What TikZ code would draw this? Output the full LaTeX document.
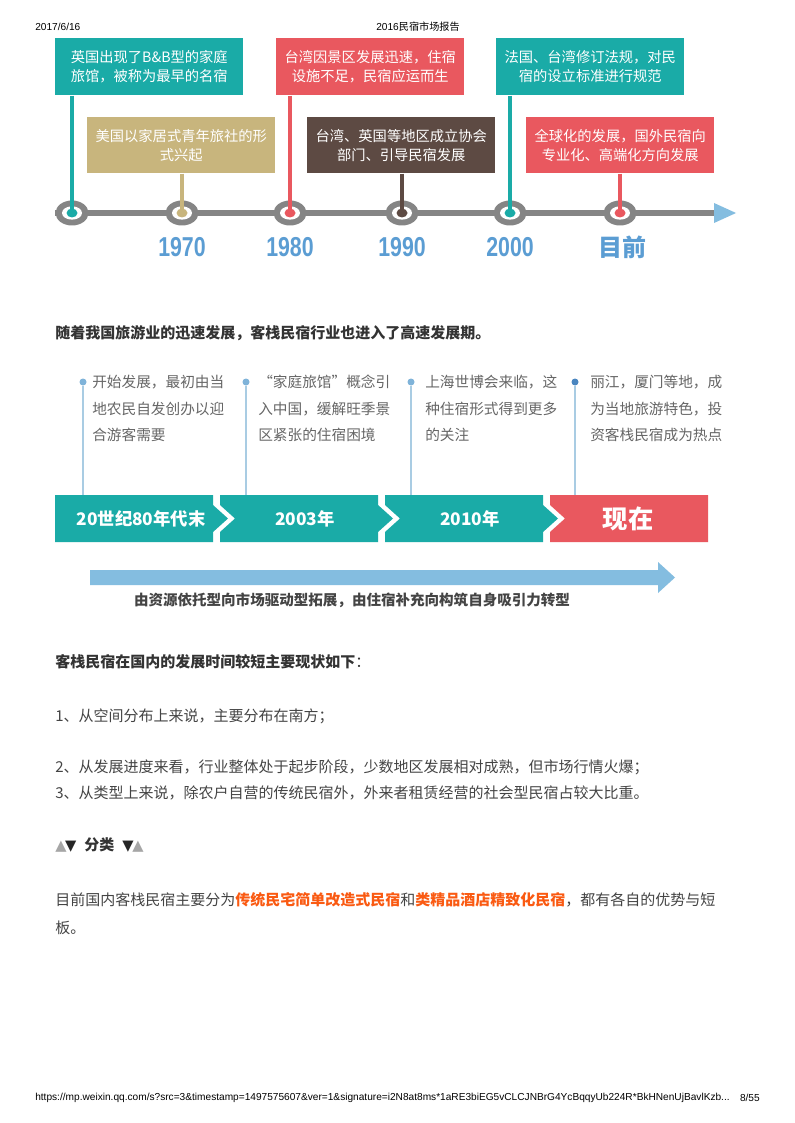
\documentclass[tikz,border=0pt]{standalone}
\usepackage{fontspec}
\setmainfont{Noto Sans CJK SC}
\newfontfamily\latinfont{Liberation Sans}
\newfontfamily\symfont{DejaVu Sans}
\usetikzlibrary{shapes.geometric}
\definecolor{teal1}{HTML}{1AABA7}
\definecolor{red1}{HTML}{E9585F}
\definecolor{tan1}{HTML}{C8B57D}
\definecolor{brown1}{HTML}{5D4A43}
\definecolor{ringgray}{HTML}{858585}
\definecolor{yearblue}{HTML}{5B9DD3}
\definecolor{arrowblue}{HTML}{84BDE0}
\definecolor{dotblue}{HTML}{7FB3D9}
\definecolor{dotblue2}{HTML}{4A86C0}
\definecolor{linkblue}{HTML}{A9CCE3}
\definecolor{txt}{HTML}{333333}
\definecolor{txt2}{HTML}{444444}
\definecolor{txt3}{HTML}{666666}
\definecolor{orange1}{HTML}{FA5A12}
\begin{document}
\begin{tikzpicture}[x=0.75pt,y=-0.75pt,
  topbox/.style={anchor=north west, inner sep=0pt, text=white, align=center,
    font=\fontsize{10.7}{14.5}\selectfont, minimum width=141pt, minimum height=42.75pt},
  ringout/.style={ellipse, fill=ringgray, minimum width=24.75pt, minimum height=18.75pt, inner sep=0pt},
  ringin/.style={ellipse, fill=white, minimum width=15pt, minimum height=10pt, inner sep=0pt},
  ringdot/.style={ellipse, minimum width=8.25pt, minimum height=6.75pt, inner sep=0pt},
  stem/.style={line width=3pt},
  year/.style={text=yearblue, inner sep=0pt, font=\latinfont\bfseries\fontsize{20.5}{20.5}\selectfont},
  stagel/.style={text=white, inner sep=0pt, font=\bfseries\fontsize{13}{13}\selectfont},
  stagetxt/.style={anchor=north west, inner sep=0pt, align=left, text=txt3,
    font=\fontsize{11}{19.9}\selectfont},
  sdot/.style={circle, minimum size=5.25pt, inner sep=0pt},
  body/.style={anchor=west, inner sep=0pt, text=txt2, font=\fontsize{11.25}{15}\selectfont},
  bodyb/.style={anchor=west, inner sep=0pt, text=txt, font=\bfseries\fontsize{11.25}{15}\selectfont},
  small/.style={inner sep=0pt, text=black, font=\latinfont\fontsize{7.6}{9}\selectfont}
]
\useasboundingbox[fill=white] (0,0) rectangle (794,1123);

% ---------- header / footer ----------
\node[small, anchor=west] (hdate) at (35,27) {2017/6/16};
\node[small] (htitle) at (418,27) {2016\fontspec{Noto Sans CJK SC}民宿市场报告};
\node[small, anchor=west] (furl) at (35,1098) {https://mp.weixin.qq.com/s?src=3\&timestamp=1497575607\&ver=1\&signature=i2N8at8ms*1aRE3biEG5vCLCJNBrG4YcBqqyUb224R*BkHNenUjBavlKzb...};
\node[small, anchor=east] (fpage) at (760,1098) {8/55};

% ---------- first timeline ----------
\node[topbox, fill=teal1] (bA) at (55,38) {英国出现了B\&B型的家庭\\旅馆，被称为最早的名宿};
\node[topbox, fill=tan1, minimum height=42pt] (bB) at (87,117) {美国以家居式青年旅社的形\\式兴起};
\node[topbox, fill=red1] (bC) at (276,38) {台湾因景区发展迅速，住宿\\设施不足，民宿应运而生};
\node[topbox, fill=brown1, minimum height=42pt] (bD) at (307,117) {台湾、英国等地区成立协会\\部门、引导民宿发展};
\node[topbox, fill=teal1] (bE) at (496,38) {法国、台湾修订法规，对民\\宿的设立标准进行规范};
\node[topbox, fill=red1, minimum height=42pt] (bF) at (526,117) {全球化的发展，国外民宿向\\专业化、高端化方向发展};

\coordinate (lstart) at (55,213);
\coordinate (lend) at (714,213);
\draw[ringgray, line width=4.5pt] (lstart) -- (lend);
\fill[arrowblue] (714,203) -- (736,213) -- (714,223) -- cycle;

\foreach \n/\xx/\col/\bx in {1/72/teal1/bA, 2/182/tan1/bB, 3/290/red1/bC, 4/402/brown1/bD, 5/510/teal1/bE, 6/620/red1/bF}{
  \node[ringout] (r\n) at (\xx,213) {};
  \node[ringin] (ri\n) at (r\n) {};
  \draw[stem, \col] (\bx.south -| r\n) -- (r\n.center);
  \node[ringdot, fill=\col] (rd\n) at (r\n) {};
}

\node[year] (y1970) at (182,247) {\scalebox{0.78}[1]{1970}};
\node[year] (y1980) at (290,247) {\scalebox{0.78}[1]{1980}};
\node[year] (y1990) at (402,247) {\scalebox{0.78}[1]{1990}};
\node[year] (y2000) at (510,247) {\scalebox{0.78}[1]{2000}};
\node[text=yearblue, inner sep=0pt, font=\bfseries\fontsize{18}{18}\selectfont] (ynow) at (622,247) {目前};

% ---------- heading ----------
\node[bodyb] (p1) at (55,333) {随着我国旅游业的迅速发展，客栈民宿行业也进入了高速发展期。};

% ---------- second timeline ----------
\fill[teal1] (55,495) -- (213,495) -- (213,505) -- (228,518.5) -- (213,532) -- (213,542) -- (55,542) -- cycle;
\fill[teal1] (220,495) -- (378,495) -- (378,505) -- (393,518.5) -- (378,532) -- (378,542) -- (220,542) -- (220,532) -- (235,518.5) -- (220,505) -- cycle;
\fill[teal1] (385,495) -- (543,495) -- (543,505) -- (558,518.5) -- (543,532) -- (543,542) -- (385,542) -- (385,532) -- (400,518.5) -- (385,505) -- cycle;
\fill[red1] (550,495) -- (708,495) -- (708,542) -- (550,542) -- (550,532) -- (565,518.5) -- (550,505) -- cycle;
\coordinate (stop) at (0,495);

\node[stagel] (s1) at (141,518.5) {20世纪80年代末};
\node[stagel] (s2) at (305,518.5) {2003年};
\node[stagel] (s3) at (470,518.5) {2010年};
\node[stagel, font=\bfseries\fontsize{19}{19}\selectfont] (s4) at (628,518.5) {现在};

\foreach \n/\xx/\col in {1/83/dotblue, 2/246/dotblue, 3/411/dotblue, 4/575/dotblue2}{
  \node[sdot, fill=\col] (d\n) at (\xx,382) {};
  \draw[linkblue, line width=0.9pt] (d\n) -- (d\n |- stop);
}

\node[stagetxt] (t1) at (92,375) {开始发展，最初由当\\地农民自发创办以迎\\合游客需要};
\node[stagetxt] (t2) at (258,375) {“家庭旅馆”概念引\\入中国，缓解旺季景\\区紧张的住宿困境};
\node[stagetxt] (t3) at (425,375) {上海世博会来临，这\\种住宿形式得到更多\\的关注};
\node[stagetxt] (t4) at (590,375) {丽江，厦门等地，成\\为当地旅游特色，投\\资客栈民宿成为热点};

\fill[arrowblue] (90,570) -- (658,570) -- (658,562) -- (675,577.5) -- (658,593) -- (658,585) -- (90,585) -- cycle;
\node[inner sep=0pt, text=txt2, font=\bfseries\fontsize{10.9}{12}\selectfont] (cap) at (352,600) {由资源依托型向市场驱动型拓展，由住宿补充向构筑自身吸引力转型};

% ---------- body text ----------
\node[bodyb] (p2) at (55,662) {客栈民宿在国内的发展时间较短主要现状如下\mdseries ：};
\node[body] (p3) at (55,716) {1、从空间分布上来说，主要分布在南方；};
\node[body] (p4) at (55,767) {2、从发展进度来看，行业整体处于起步阶段，少数地区发展相对成熟，但市场行情火爆；};
\node[body] (p5) at (55,793) {3、从类型上来说，除农户自营的传统民宿外，外来者租赁经营的社会型民宿占较大比重。};
\node[bodyb] (p6) at (55,845) {{\symfont\fontsize{11}{11}\selectfont\textcolor{gray!70}{▲}\kern-1pt\textcolor{black!85}{▼}}\hspace{6pt}分类\hspace{6pt}{\symfont\fontsize{11}{11}\selectfont\textcolor{black!85}{▼}\kern-1pt\textcolor{gray!70}{▲}}};
\node[body] (p7) at (55,900) {目前国内客栈民宿主要分为{\bfseries\color{orange1}传统民宅简单改造式民宿}和{\bfseries\color{orange1}类精品酒店精致化民宿}，都有各自的优势与短};
\node[body] (p8) at (55,928) {板。};
\end{tikzpicture}
\end{document}
